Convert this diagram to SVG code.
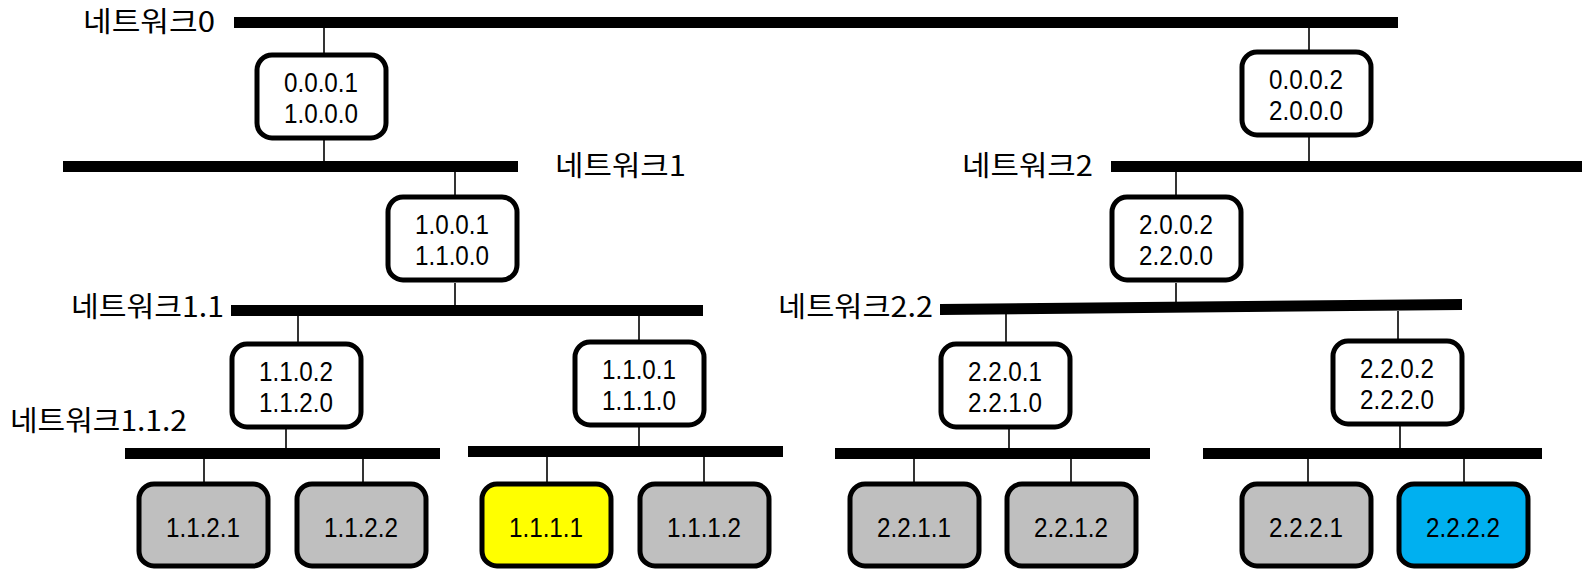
<svg xmlns="http://www.w3.org/2000/svg" width="1582" height="569" viewBox="0 0 1582 569">
<style>
.bar{fill:#000}
.ln{stroke:#000;stroke-width:1.6;fill:none}
.box{stroke:#000;stroke-width:5;fill:#fff}
.leaf{stroke:#000;stroke-width:5;fill:#bfbfbf}
.lbl{font-family:"Noto Sans CJK KR","Noto Sans",sans-serif;font-size:28px;fill:#000}
.t{font-family:"Liberation Sans",Arial,sans-serif;font-size:27px;fill:#000;text-anchor:middle}
</style>
<rect width="1582" height="569" fill="#fff"/>
<g id="connectors">
<line class="ln" x1="324" y1="28" x2="324" y2="55"/>
<line class="ln" x1="324" y1="139" x2="324" y2="162"/>
<line class="ln" x1="1309" y1="28" x2="1309" y2="52"/>
<line class="ln" x1="1309" y1="137" x2="1309" y2="162"/>
<line class="ln" x1="455" y1="170" x2="455" y2="197"/>
<line class="ln" x1="455" y1="283" x2="455" y2="306"/>
<line class="ln" x1="1176" y1="170" x2="1176" y2="197"/>
<line class="ln" x1="1176" y1="283" x2="1176" y2="305"/>
<line class="ln" x1="298" y1="315" x2="298" y2="344"/>
<line class="ln" x1="639" y1="315" x2="639" y2="342"/>
<line class="ln" x1="1006" y1="313" x2="1006" y2="344"/>
<line class="ln" x1="1398" y1="311" x2="1398" y2="342"/>
<line class="ln" x1="286" y1="428" x2="286" y2="449"/>
<line class="ln" x1="639" y1="426" x2="639" y2="447"/>
<line class="ln" x1="1009" y1="428" x2="1009" y2="449"/>
<line class="ln" x1="1400" y1="425" x2="1400" y2="449"/>
<line class="ln" x1="204" y1="458" x2="204" y2="484"/>
<line class="ln" x1="363" y1="458" x2="363" y2="484"/>
<line class="ln" x1="547" y1="456" x2="547" y2="484"/>
<line class="ln" x1="704" y1="456" x2="704" y2="484"/>
<line class="ln" x1="914" y1="458" x2="914" y2="484"/>
<line class="ln" x1="1071" y1="458" x2="1071" y2="484"/>
<line class="ln" x1="1308" y1="458" x2="1308" y2="484"/>
<line class="ln" x1="1464" y1="458" x2="1464" y2="484"/>
</g>
<g id="net0"><rect class="bar" x="234" y="17" width="1164" height="11"/><text class="lbl" x="83" y="32" textLength="132" lengthAdjust="spacingAndGlyphs">네트워크0</text></g>
<g id="net1"><rect class="bar" x="63" y="161" width="455" height="11"/><text class="lbl" x="555" y="176" textLength="131" lengthAdjust="spacingAndGlyphs">네트워크1</text></g>
<g id="net2"><rect class="bar" x="1111" y="161" width="471" height="11"/><text class="lbl" x="962" y="176" textLength="131" lengthAdjust="spacingAndGlyphs">네트워크2</text></g>
<g id="net1_1"><rect class="bar" x="231" y="305" width="472" height="11"/><text class="lbl" x="71" y="317" textLength="153" lengthAdjust="spacingAndGlyphs">네트워크1.1</text></g>
<g id="net2_2"><polygon class="bar" points="940,304 1462,299 1462,310 940,315"/><text class="lbl" x="778" y="317" textLength="155" lengthAdjust="spacingAndGlyphs">네트워크2.2</text></g>
<g id="net1_1_2"><rect class="bar" x="125" y="448" width="315" height="11"/><text class="lbl" x="10" y="431" textLength="177" lengthAdjust="spacingAndGlyphs">네트워크1.1.2</text></g>
<g id="net1_1_1"><rect class="bar" x="468" y="446" width="315" height="11"/></g>
<g id="net2_2_1"><rect class="bar" x="835" y="448" width="315" height="11"/></g>
<g id="net2_2_2"><rect class="bar" x="1203" y="448" width="339" height="11"/></g>

<g id="r0001"><rect class="box" x="257" y="55" width="129" height="83" rx="15"/><text class="t" x="321" y="92" textLength="74" lengthAdjust="spacingAndGlyphs">0.0.0.1</text><text class="t" x="321" y="123" textLength="74" lengthAdjust="spacingAndGlyphs">1.0.0.0</text></g>
<g id="r0002"><rect class="box" x="1242" y="52" width="129" height="83" rx="15"/><text class="t" x="1306" y="89" textLength="74" lengthAdjust="spacingAndGlyphs">0.0.0.2</text><text class="t" x="1306" y="120" textLength="74" lengthAdjust="spacingAndGlyphs">2.0.0.0</text></g>
<g id="r1001"><rect class="box" x="388" y="197" width="129" height="83" rx="15"/><text class="t" x="452" y="234" textLength="74" lengthAdjust="spacingAndGlyphs">1.0.0.1</text><text class="t" x="452" y="265" textLength="74" lengthAdjust="spacingAndGlyphs">1.1.0.0</text></g>
<g id="r2002"><rect class="box" x="1112" y="197" width="129" height="83" rx="15"/><text class="t" x="1176" y="234" textLength="74" lengthAdjust="spacingAndGlyphs">2.0.0.2</text><text class="t" x="1176" y="265" textLength="74" lengthAdjust="spacingAndGlyphs">2.2.0.0</text></g>
<g id="r1102"><rect class="box" x="232" y="344" width="129" height="83" rx="15"/><text class="t" x="296" y="381" textLength="74" lengthAdjust="spacingAndGlyphs">1.1.0.2</text><text class="t" x="296" y="412" textLength="74" lengthAdjust="spacingAndGlyphs">1.1.2.0</text></g>
<g id="r1101"><rect class="box" x="575" y="342" width="129" height="83" rx="15"/><text class="t" x="639" y="379" textLength="74" lengthAdjust="spacingAndGlyphs">1.1.0.1</text><text class="t" x="639" y="410" textLength="74" lengthAdjust="spacingAndGlyphs">1.1.1.0</text></g>
<g id="r2201"><rect class="box" x="941" y="344" width="129" height="83" rx="15"/><text class="t" x="1005" y="381" textLength="74" lengthAdjust="spacingAndGlyphs">2.2.0.1</text><text class="t" x="1005" y="412" textLength="74" lengthAdjust="spacingAndGlyphs">2.2.1.0</text></g>
<g id="r2202"><rect class="box" x="1333" y="341" width="129" height="83" rx="15"/><text class="t" x="1397" y="378" textLength="74" lengthAdjust="spacingAndGlyphs">2.2.0.2</text><text class="t" x="1397" y="409" textLength="74" lengthAdjust="spacingAndGlyphs">2.2.2.0</text></g>

<g id="h1121"><rect class="leaf" x="139" y="484" width="129" height="82" rx="15"/><text class="t" x="203" y="537" textLength="74" lengthAdjust="spacingAndGlyphs">1.1.2.1</text></g>
<g id="h1122"><rect class="leaf" x="297" y="484" width="129" height="82" rx="15"/><text class="t" x="361" y="537" textLength="74" lengthAdjust="spacingAndGlyphs">1.1.2.2</text></g>
<g id="h1111"><rect class="leaf" x="482" y="484" width="129" height="82" rx="15" style="fill:#ffff00"/><text class="t" x="546" y="537" textLength="74" lengthAdjust="spacingAndGlyphs">1.1.1.1</text></g>
<g id="h1112"><rect class="leaf" x="640" y="484" width="129" height="82" rx="15"/><text class="t" x="704" y="537" textLength="74" lengthAdjust="spacingAndGlyphs">1.1.1.2</text></g>
<g id="h2211"><rect class="leaf" x="850" y="484" width="129" height="82" rx="15"/><text class="t" x="914" y="537" textLength="74" lengthAdjust="spacingAndGlyphs">2.2.1.1</text></g>
<g id="h2212"><rect class="leaf" x="1007" y="484" width="129" height="82" rx="15"/><text class="t" x="1071" y="537" textLength="74" lengthAdjust="spacingAndGlyphs">2.2.1.2</text></g>
<g id="h2221"><rect class="leaf" x="1242" y="484" width="129" height="82" rx="15"/><text class="t" x="1306" y="537" textLength="74" lengthAdjust="spacingAndGlyphs">2.2.2.1</text></g>
<g id="h2222"><rect class="leaf" x="1399" y="484" width="129" height="82" rx="15" style="fill:#00b0f0"/><text class="t" x="1463" y="537" textLength="74" lengthAdjust="spacingAndGlyphs">2.2.2.2</text></g>
</svg>
